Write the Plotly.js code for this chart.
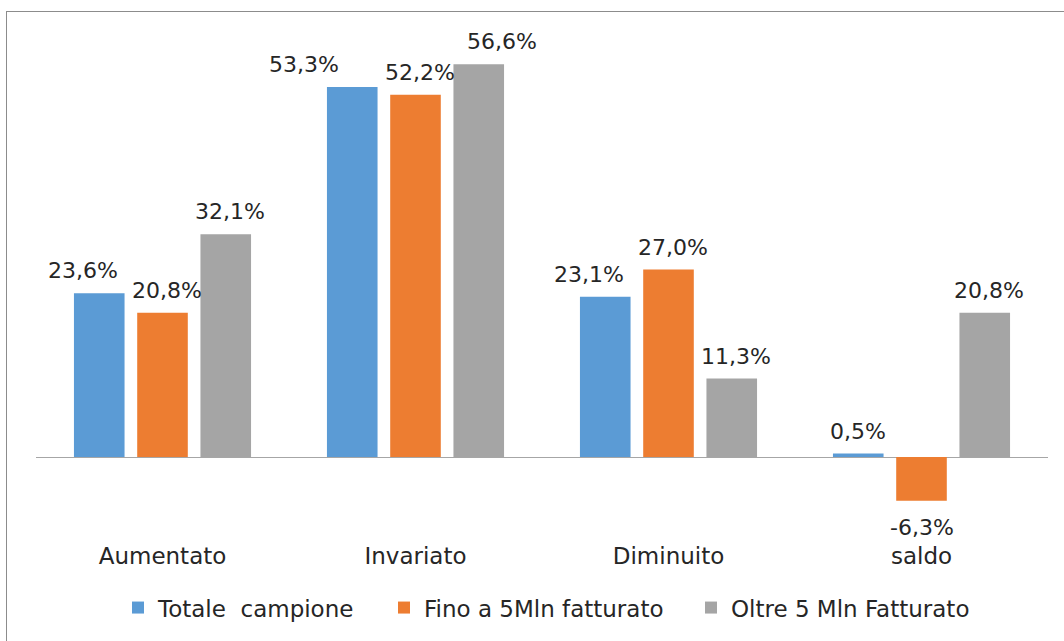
<!DOCTYPE html>
<html>
<head>
<meta charset="utf-8">
<script src="https://cdn.plot.ly/plotly-3.0.1.min.js"></script>
<style>
html,body{margin:0;padding:0;background:#fff;}
#wrap{position:relative;width:1064px;height:641px;overflow:hidden;}
#chart{position:absolute;left:0;top:0;width:1064px;height:641px;}
#frame{position:absolute;left:6px;top:11px;width:1100px;height:700px;border:1px solid #8c8c8c;pointer-events:none;}
</style>
</head>
<body>
<div id="wrap"><div id="chart"></div><div id="frame"></div></div>
<script>
const categories = ["Aumentato", "Invariato", "Diminuito", "saldo"];
const seriesNames = ["Totale\u00a0 campione", "Fino a 5Mln fatturato", "Oltre 5 Mln Fatturato"];
const totaleCampione = [23.6, 53.3, 23.1, 0.5];
const finoA5Mln = [20.8, 52.2, 27.0, -6.3];
const oltre5Mln = [32.1, 56.6, 11.3, 20.8];
const colors = ["#5B9BD5", "#ED7D31", "#A5A5A5"];
// manual label nudges (px) like the original chart
const labelShift = [[-16, -48, -16, 0], [4, 4, 4, 0], [4, 23, 4, 4]];
// legend entry widths (px)
const legendWidths = [221, 262, 240];

const seriesVals = [totaleCampione, finoA5Mln, oltre5Mln];
const fontFam = "DejaVu Sans, sans-serif";
const txtColor = "#262626";
const fs = 23;
const bargap = 0.25;

const traces = seriesVals.map((vals, i) => ({
  type: "bar",
  name: seriesNames[i],
  x: categories,
  y: vals,
  marker: {color: colors[i]},
  legendwidth: legendWidths[i],
  hoverinfo: "none"
}));

const fmt = v => v.toFixed(1).replace(".", ",") + "%";
const annotations = [];
const slot = (1 - bargap) / 3;
seriesVals.forEach((vals, i) => {
  vals.forEach((v, j) => {
    annotations.push({
      x: j + (i - 1) * slot,
      y: v,
      xref: "x", yref: "y",
      text: fmt(v),
      showarrow: false,
      yanchor: v >= 0 ? "bottom" : "top",
      yshift: v >= 0 ? 8 : -12,
      xshift: labelShift[i][j],
      font: {family: fontFam, size: 22, color: txtColor}
    });
  });
});

const layout = {
  width: 1064, height: 641,
  margin: {l: 36, r: 16, t: 20, b: 101},
  paper_bgcolor: "#ffffff",
  plot_bgcolor: "#ffffff",
  barmode: "group",
  bargap: bargap,
  bargroupgap: 0.2,
  font: {family: fontFam, size: fs, color: txtColor},
  xaxis: {
    type: "category",
    showline: false, ticks: "", showgrid: false,
    tickfont: {family: fontFam, size: fs, color: txtColor},
    fixedrange: true
  },
  yaxis: {
    range: [-11.96, 62.97],
    showticklabels: false, showgrid: false, ticks: "",
    zeroline: true, zerolinecolor: "#a6a6a6", zerolinewidth: 1,
    fixedrange: true
  },
  showlegend: true,
  legend: {
    orientation: "h", x: (132 - 14 - 36) / 1012, xanchor: "left", y: -0.13, yanchor: "middle",
    font: {family: fontFam, size: fs, color: txtColor},
    traceorder: "normal"
  },
  annotations: annotations
};

Plotly.newPlot("chart", traces, layout, {displayModeBar: false, staticPlot: true});
</script>
</body>
</html>
